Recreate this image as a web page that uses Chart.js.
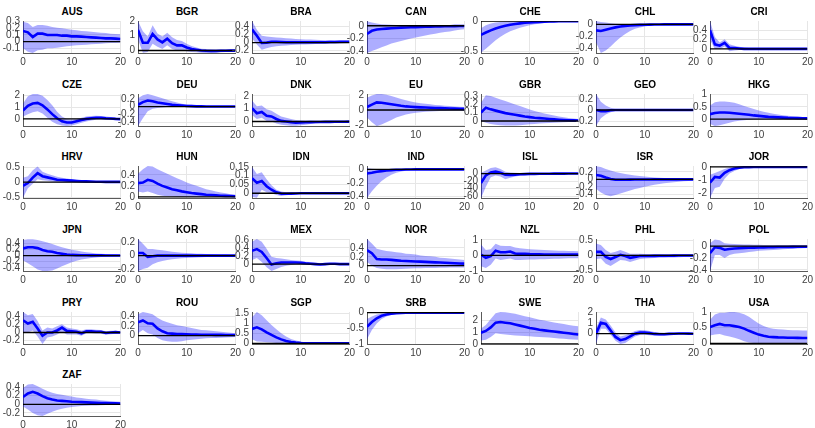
<!DOCTYPE html>
<html>
<head>
<meta charset="utf-8">
<script src="https://cdn.jsdelivr.net/npm/chart.js@4.4.1/dist/chart.umd.min.js"></script>
<style>
  html, body { margin: 0; padding: 0; background: #fff; }
  #wrap { position: relative; width: 815px; height: 428px; overflow: hidden; background: #fff; }
  canvas { position: absolute; }
  .ttl { position: absolute; width: 98px; text-align: center; font: bold 10px "Liberation Sans", Arial, Helvetica, sans-serif; line-height: 12px; color: #000; }
</style>
</head>
<body>
<div id="wrap"></div>
<script>
const horizons = [0,1,2,3,4,5,6,7,8,9,10,11,12,13,14,15,16,17,18,19,20];

const countries = ["AUS","BGR","BRA","CAN","CHE","CHL","CRI",
                   "CZE","DEU","DNK","EU","GBR","GEO","HKG",
                   "HRV","HUN","IDN","IND","ISL","ISR","JOR",
                   "JPN","KOR","MEX","NOR","NZL","PHL","POL",
                   "PRY","ROU","SGP","SRB","SWE","THA","USA",
                   "ZAF"];

const yMin = [-0.17,-0.17,-0.26,-0.43,-0.53,-0.48,-0.09,
              -0.6,-0.5,-0.35,-2.1,-0.06,-0.29,-0.28,
              -0.53,-0.02,-0.027,-0.42,-65,-0.5,-2.35,
              -0.5,-0.23,-0.17,-0.12,-1.0,-0.52,-0.42,
              -0.28,-0.18,-0.03,-1.0,0,-0.95,-0.02,
              -0.27];
const yMax = [0.31,2.0,0.54,0.075,0.0,0.057,0.61,
              2.1,0.33,2.15,2.1,0.325,0.29,1.02,
              0.54,0.56,0.155,0.05,20,0.36,0.07,
              0.535,0.25,0.62,0.6,1.05,0.55,0.12,
              0.5,0.5,1.56,0.02,2.7,2.0,1.0,
              0.47];
const yTicks = [[-0.1,0,0.1,0.2,0.3],[0,1,2],[-0.2,0,0.2,0.4],[-0.4,-0.2,0],[-0.5,0],[-0.4,-0.2,0],[0,0.2,0.4],
                [0,1,2],[-0.4,-0.2,0,0.2],[0,1,2],[-2,0,2],[0,0.1,0.2,0.3],[-0.2,0,0.2],[0,0.5,1],
                [-0.5,0,0.5],[0,0.2,0.4],[0,0.05,0.1,0.15],[-0.4,-0.2,0],[-60,-40,-20,0],[-0.4,-0.2,0,0.2],[-2,-1,0],
                [-0.4,-0.2,0,0.2,0.4],[-0.2,0,0.2],[0,0.2,0.4,0.6],[0,0.2,0.4],[-1,0,1],[-0.5,0,0.5],[-0.4,-0.2,0],
                [-0.2,0,0.2,0.4],[0,0.2,0.4],[0,0.5,1,1.5],[-1,-0.5,0],[0,1,2],[0,1,2],[0,0.5,1],
                [-0.2,0,0.2,0.4]];

// impulse response (median)
const irfMid = [
 [0.16,0.14,0.07,0.12,0.12,0.10,0.10,0.10,0.09,0.09,0.08,0.08,0.075,0.07,0.065,0.06,0.055,0.05,0.05,0.045,0.04],
 [1.40,0.52,0.52,1.12,0.75,0.55,0.80,0.50,0.35,0.35,0.20,0.10,0.05,0.0,-0.02,-0.03,-0.03,-0.02,-0.02,-0.01,-0.01],
 [0.33,0.17,-0.01,0.0,0.02,0.02,0.015,0.01,0.01,0.01,0.01,0.01,0.01,0.01,0.01,0.01,0.015,0.015,0.02,0.02,0.02],
 [-0.13,-0.08,-0.06,-0.05,-0.045,-0.04,-0.035,-0.03,-0.027,-0.024,-0.021,-0.018,-0.016,-0.014,-0.012,-0.01,-0.008,-0.007,-0.006,-0.005,-0.004],
 [-0.23,-0.19,-0.155,-0.125,-0.10,-0.08,-0.063,-0.05,-0.04,-0.03,-0.024,-0.018,-0.014,-0.011,-0.008,-0.006,-0.005,-0.004,-0.003,-0.002,-0.002],
 [-0.10,-0.11,-0.09,-0.07,-0.05,-0.035,-0.025,-0.017,-0.012,-0.008,-0.005,-0.003,-0.002,-0.001,0,0,0,0,0,0,0],
 [0.41,0.10,0.07,0.13,0.02,0.02,0.01,0.0,0.0,0.0,0.0,0,0,0,0,0,0,0,0,0,0],
 [0.70,1.10,1.30,1.35,1.15,0.80,0.40,0.05,-0.20,-0.30,-0.30,-0.20,-0.10,0.0,0.06,0.10,0.10,0.06,0.03,0.0,-0.02],
 [0.05,0.12,0.16,0.14,0.11,0.09,0.07,0.05,0.04,0.03,0.02,0.015,0.01,0.008,0.006,0.005,0.005,0.005,0.005,0.005,0.005],
 [1.05,0.65,0.75,0.45,0.40,0.20,0.05,0.0,-0.05,-0.10,-0.08,-0.06,-0.05,-0.04,-0.035,-0.03,-0.025,-0.02,-0.02,-0.015,-0.01],
 [0.40,0.70,1.00,0.95,0.85,0.75,0.65,0.55,0.47,0.42,0.38,0.35,0.32,0.29,0.26,0.24,0.22,0.20,0.18,0.16,0.15],
 [0.10,0.16,0.14,0.125,0.11,0.095,0.085,0.075,0.065,0.055,0.047,0.04,0.035,0.03,0.025,0.02,0.016,0.013,0.01,0.008,0.006],
 [0.0,-0.02,-0.02,-0.005,0,0,0,0,0,0,0,0,0,0,0,0,0,0,0,0,0],
 [0.20,0.25,0.27,0.27,0.26,0.24,0.22,0.20,0.18,0.15,0.13,0.11,0.09,0.08,0.07,0.06,0.05,0.045,0.04,0.035,0.03],
 [-0.12,-0.03,0.15,0.30,0.20,0.16,0.12,0.08,0.07,0.06,0.05,0.04,0.03,0.025,0.02,0.015,0.012,0.01,0.01,0.01,0.01],
 [0.25,0.26,0.31,0.29,0.24,0.20,0.17,0.14,0.12,0.10,0.085,0.07,0.06,0.05,0.04,0.033,0.027,0.022,0.018,0.015,0.012],
 [0.085,0.06,0.07,0.04,0.02,0.005,-0.002,-0.003,-0.002,-0.001,0,0,0,0,0,0,0,0,0,0,0],
 [-0.06,-0.05,-0.035,-0.025,-0.016,-0.01,-0.006,-0.004,-0.002,-0.001,0,0,0,0,0,0,0,0,0,0,0],
 [-25,-5,3,5,2,-3,-4,-3,-2,-1.5,-1,-0.8,-0.6,-0.5,-0.4,-0.3,-0.2,-0.2,-0.1,-0.1,-0.1],
 [0.12,0.10,0.05,0.01,-0.01,-0.01,-0.008,-0.006,-0.004,-0.003,-0.002,-0.001,0,0,0,0,0,0,0,0,0],
 [-1.2,-0.75,-0.8,-0.45,-0.25,-0.12,-0.06,-0.03,-0.02,-0.01,0,0,0,0,0,0,0,0,0,0,0],
 [0.23,0.27,0.27,0.24,0.18,0.14,0.12,0.08,0.06,0.03,0.02,0.015,0.01,0.008,0.006,0.005,0.004,0.003,0.002,0.002,0.002],
 [0.04,0.04,-0.02,-0.01,0,0,0,0,0,0,0,0,0,0,0,0,0,0,0,0,0],
 [0.33,0.37,0.30,0.15,-0.01,0.02,0.04,0.04,0.04,0.04,0.035,0.02,0.01,0.0,-0.01,0.0,0.01,0.01,0.0,0.0,0.0],
 [0.35,0.28,0.15,0.14,0.14,0.13,0.12,0.11,0.105,0.10,0.095,0.09,0.085,0.08,0.075,0.07,0.065,0.06,0.055,0.05,0.045],
 [0.05,-0.15,-0.05,0.30,0.20,0.20,0.25,0.12,0.10,0.10,0.08,0.07,0.07,0.06,0.06,0.06,0.05,0.05,0.05,0.05,0.05],
 [0.12,0.12,-0.05,-0.12,-0.05,0.02,-0.02,-0.08,-0.05,-0.02,-0.02,-0.02,-0.015,-0.01,-0.01,-0.01,-0.005,0,0,0,0],
 [-0.12,-0.02,-0.03,-0.06,-0.05,-0.04,-0.035,-0.03,-0.028,-0.026,-0.024,-0.022,-0.02,-0.018,-0.016,-0.015,-0.014,-0.013,-0.012,-0.011,-0.01],
 [0.30,0.22,0.26,0.10,-0.08,0.0,0.0,0.05,0.12,0.04,0.03,0.02,-0.02,0.03,0.03,0.02,0.02,-0.01,0.0,0.01,0.0],
 [0.28,0.32,0.26,0.25,0.15,0.09,0.05,0.04,0.03,0.03,0.025,0.022,0.02,0.018,0.016,0.015,0.014,0.013,0.012,0.011,0.01],
 [0.72,0.80,0.70,0.55,0.42,0.30,0.20,0.12,0.07,0.04,0.02,0.01,0.005,0,0,0,0,0,0,0,0],
 [-0.45,-0.30,-0.18,-0.10,-0.06,-0.035,-0.02,-0.01,-0.005,-0.002,0,0,0,0,0,0,0,0,0,0,0],
 [0.95,1.10,1.40,1.80,1.85,1.80,1.75,1.65,1.55,1.45,1.35,1.28,1.20,1.15,1.10,1.05,1.00,0.95,0.90,0.85,0.80],
 [0.0,1.0,0.9,0.3,-0.3,-0.6,-0.5,-0.25,0.0,0.1,0.1,0.05,-0.02,-0.05,-0.05,-0.02,0.0,0.02,0.02,0.01,0.0],
 [0.52,0.58,0.62,0.58,0.58,0.55,0.52,0.47,0.40,0.34,0.28,0.24,0.21,0.20,0.19,0.185,0.18,0.178,0.175,0.172,0.17],
 [0.17,0.25,0.29,0.25,0.19,0.14,0.11,0.09,0.08,0.07,0.06,0.055,0.05,0.045,0.04,0.035,0.03,0.028,0.025,0.022,0.02]
];

// lower edge of the confidence band
const bandLo = [
 [-0.10,-0.15,-0.17,-0.13,-0.12,-0.10,-0.10,-0.09,-0.08,-0.07,-0.06,-0.055,-0.05,-0.045,-0.04,-0.035,-0.03,-0.025,-0.02,-0.02,-0.015],
 [0.75,-0.15,-0.10,0.45,0.25,0.10,0.35,0.10,0.0,0.0,-0.05,-0.10,-0.12,-0.15,-0.17,-0.17,-0.15,-0.12,-0.10,-0.09,-0.08],
 [0.10,-0.05,-0.18,-0.14,-0.11,-0.09,-0.08,-0.07,-0.06,-0.055,-0.05,-0.045,-0.04,-0.035,-0.03,-0.03,-0.025,-0.02,-0.02,-0.015,-0.01],
 [-0.43,-0.40,-0.37,-0.34,-0.31,-0.28,-0.26,-0.24,-0.22,-0.20,-0.185,-0.17,-0.155,-0.14,-0.125,-0.11,-0.10,-0.09,-0.075,-0.065,-0.055],
 [-0.52,-0.46,-0.39,-0.32,-0.26,-0.21,-0.17,-0.14,-0.11,-0.09,-0.07,-0.055,-0.045,-0.035,-0.028,-0.022,-0.017,-0.013,-0.01,-0.008,-0.006],
 [-0.30,-0.48,-0.44,-0.37,-0.29,-0.22,-0.16,-0.11,-0.075,-0.05,-0.035,-0.024,-0.016,-0.01,-0.007,-0.005,-0.003,-0.002,-0.001,-0.001,0],
 [0.20,0.0,0.0,0.05,-0.05,-0.035,-0.025,-0.02,-0.015,-0.01,-0.008,-0.006,-0.005,-0.004,-0.003,-0.002,-0.002,-0.002,-0.001,-0.001,-0.001],
 [0.20,0.40,0.55,0.65,0.45,0.10,-0.25,-0.45,-0.55,-0.60,-0.55,-0.45,-0.32,-0.22,-0.14,-0.08,-0.06,-0.08,-0.10,-0.10,-0.10],
 [-0.50,-0.30,-0.12,-0.05,-0.03,-0.02,-0.01,-0.005,0,0,0,0,0,-0.005,-0.005,-0.005,-0.005,-0.005,-0.005,-0.005,-0.005],
 [0.50,0.20,0.30,0.05,0.0,-0.15,-0.25,-0.30,-0.33,-0.33,-0.30,-0.25,-0.20,-0.15,-0.12,-0.10,-0.08,-0.07,-0.06,-0.05,-0.05],
 [-1.00,-1.60,-2.10,-1.90,-1.60,-1.30,-1.00,-0.78,-0.60,-0.46,-0.36,-0.29,-0.23,-0.19,-0.16,-0.14,-0.12,-0.11,-0.10,-0.10,-0.10],
 [0.0,-0.02,-0.035,-0.045,-0.05,-0.055,-0.055,-0.055,-0.05,-0.045,-0.04,-0.035,-0.03,-0.027,-0.024,-0.02,-0.017,-0.015,-0.012,-0.01,-0.01],
 [-0.29,-0.15,-0.08,-0.04,-0.02,-0.01,-0.005,-0.002,0,0,0,0,0,0,0,0,0,0,0,0,0],
 [-0.20,-0.28,-0.25,-0.20,-0.15,-0.10,-0.07,-0.05,-0.03,-0.02,-0.01,-0.005,0,0,0,0,0,0,0,0,0],
 [-0.52,-0.20,-0.05,0.10,0.06,0.05,0.02,0.0,0.0,0.0,0.0,0,0,0,0,0,0,0,0,0,0],
 [0.10,0.08,0.10,0.07,0.04,0.02,0.01,0.005,0,0,0,0,0,0,0,0,0,0,0,0,0],
 [-0.02,-0.025,0.02,0.005,0.0,-0.01,-0.015,-0.012,-0.008,-0.005,-0.003,-0.002,-0.001,-0.001,-0.001,-0.001,-0.001,-0.001,-0.001,-0.001,-0.001],
 [-0.42,-0.32,-0.24,-0.17,-0.12,-0.08,-0.05,-0.03,-0.02,-0.012,-0.007,-0.004,-0.002,-0.001,0,0,0,0,0,0,0],
 [-65,-35,-10,-5,-8,-15,-11,-8,-6,-4.5,-3.5,-2.8,-2.2,-1.8,-1.5,-1.2,-1,-0.8,-0.7,-0.6,-0.5],
 [-0.25,-0.35,-0.42,-0.45,-0.42,-0.38,-0.34,-0.30,-0.26,-0.23,-0.20,-0.17,-0.145,-0.125,-0.105,-0.09,-0.075,-0.06,-0.05,-0.04,-0.03],
 [-2.35,-1.6,-1.5,-0.9,-0.5,-0.3,-0.15,-0.08,-0.05,-0.03,-0.02,-0.01,0,0,0,0,0,0,0,0,0],
 [-0.15,-0.25,-0.35,-0.45,-0.50,-0.50,-0.48,-0.42,-0.35,-0.28,-0.22,-0.17,-0.13,-0.10,-0.08,-0.06,-0.05,-0.04,-0.03,-0.02,-0.02],
 [-0.23,-0.20,-0.18,-0.13,-0.10,-0.08,-0.065,-0.055,-0.045,-0.04,-0.035,-0.03,-0.027,-0.024,-0.021,-0.018,-0.015,-0.013,-0.011,-0.01,-0.01],
 [0.10,0.15,0.05,-0.08,-0.17,-0.12,-0.07,-0.04,-0.02,0.0,0.0,-0.01,-0.02,-0.03,-0.035,-0.025,-0.01,-0.01,-0.01,-0.01,-0.01],
 [0.08,0.0,-0.05,-0.07,-0.08,-0.08,-0.08,-0.075,-0.07,-0.065,-0.06,-0.058,-0.055,-0.053,-0.05,-0.048,-0.046,-0.044,-0.042,-0.041,-0.04],
 [-0.70,-0.80,-0.60,-0.20,-0.30,-0.25,-0.20,-0.30,-0.30,-0.28,-0.27,-0.26,-0.25,-0.24,-0.23,-0.22,-0.21,-0.20,-0.19,-0.19,-0.18],
 [-0.12,-0.10,-0.28,-0.35,-0.25,-0.15,-0.17,-0.22,-0.17,-0.12,-0.10,-0.09,-0.085,-0.08,-0.075,-0.07,-0.065,-0.06,-0.055,-0.05,-0.05],
 [-0.42,-0.15,-0.15,-0.20,-0.15,-0.13,-0.12,-0.11,-0.10,-0.09,-0.08,-0.075,-0.07,-0.065,-0.06,-0.055,-0.05,-0.045,-0.04,-0.035,-0.03],
 [0.02,0.0,0.05,-0.10,-0.28,-0.12,-0.10,-0.05,0.02,-0.05,-0.05,-0.05,-0.08,-0.02,-0.02,-0.03,-0.03,-0.05,-0.04,-0.03,-0.03],
 [0.05,0.12,0.05,0.02,-0.05,-0.10,-0.12,-0.13,-0.13,-0.12,-0.10,-0.09,-0.08,-0.07,-0.06,-0.055,-0.05,-0.045,-0.04,-0.035,-0.03],
 [0.20,0.10,0.08,0.06,0.04,0.02,0.01,0.0,0,0,0,0,0,0,0,0,0,0,0,0,0],
 [-0.85,-0.55,-0.35,-0.20,-0.12,-0.07,-0.04,-0.025,-0.015,-0.01,-0.005,0,0,0,0,0,0,0,0,0,0],
 [0.30,0.35,0.60,0.90,0.85,0.80,0.75,0.72,0.70,0.68,0.65,0.62,0.60,0.57,0.54,0.50,0.47,0.44,0.41,0.38,0.35],
 [-0.95,0.45,0.45,-0.10,-0.65,-0.95,-0.85,-0.55,-0.25,-0.12,-0.10,-0.15,-0.20,-0.20,-0.18,-0.13,-0.10,-0.08,-0.07,-0.06,-0.06],
 [0.25,0.28,0.30,0.25,0.22,0.18,0.13,0.07,0.03,0.01,0.0,-0.01,-0.01,-0.01,-0.01,-0.01,-0.01,-0.01,-0.01,-0.01,-0.01],
 [-0.05,-0.12,-0.20,-0.25,-0.27,-0.22,-0.17,-0.13,-0.10,-0.08,-0.06,-0.05,-0.04,-0.035,-0.03,-0.025,-0.02,-0.018,-0.015,-0.012,-0.01]
];

// upper edge of the confidence band
const bandHi = [
 [0.30,0.28,0.22,0.25,0.25,0.24,0.22,0.21,0.20,0.19,0.18,0.17,0.16,0.155,0.15,0.14,0.135,0.13,0.12,0.115,0.11],
 [2.0,1.30,0.95,1.72,1.15,0.95,1.20,0.90,0.72,0.65,0.45,0.30,0.20,0.12,0.10,0.08,0.07,0.06,0.05,0.05,0.05],
 [0.54,0.32,0.17,0.15,0.14,0.13,0.12,0.11,0.10,0.09,0.085,0.08,0.075,0.07,0.065,0.06,0.06,0.055,0.055,0.05,0.05],
 [0.07,0.05,0.035,0.025,0.02,0.015,0.01,0.008,0.006,0.005,0.004,0.003,0.002,0.002,0.001,0.001,0.001,0,0,0,0],
 [-0.12,-0.07,-0.04,-0.025,-0.015,-0.01,-0.006,-0.004,-0.002,-0.001,0,0,0,0,0,0,0,0,0,0,0],
 [0.055,0.04,0.03,0.02,0.012,0.008,0.005,0.003,0.002,0.001,0,0,0,0,0,0,0,0,0,0,0],
 [0.61,0.26,0.14,0.21,0.10,0.07,0.045,0.03,0.02,0.015,0.01,0.01,0.008,0.006,0.005,0.004,0.003,0.003,0.002,0.002,0.002],
 [1.30,1.90,2.10,2.10,1.95,1.60,1.15,0.60,0.20,0.0,-0.05,0.0,0.10,0.20,0.25,0.26,0.25,0.20,0.15,0.10,0.05],
 [0.22,0.30,0.33,0.30,0.26,0.22,0.18,0.14,0.11,0.08,0.06,0.05,0.04,0.03,0.025,0.02,0.02,0.02,0.02,0.02,0.02],
 [1.65,1.20,1.25,0.95,0.85,0.60,0.40,0.30,0.20,0.12,0.10,0.08,0.06,0.05,0.04,0.03,0.03,0.025,0.02,0.02,0.02],
 [1.60,1.90,2.10,2.10,2.00,1.85,1.65,1.45,1.27,1.12,1.00,0.90,0.82,0.74,0.67,0.61,0.56,0.51,0.47,0.43,0.40],
 [0.22,0.31,0.30,0.28,0.26,0.24,0.22,0.20,0.18,0.16,0.14,0.12,0.105,0.09,0.077,0.065,0.055,0.045,0.037,0.03,0.025],
 [0.29,0.15,0.08,0.04,0.02,0.01,0.005,0.002,0,0,0,0,0,0,0,0,0,0,0,0,0],
 [0.55,0.68,0.72,0.72,0.70,0.66,0.60,0.53,0.47,0.41,0.35,0.30,0.26,0.22,0.19,0.16,0.14,0.12,0.10,0.09,0.08],
 [0.15,0.20,0.40,0.52,0.35,0.28,0.23,0.18,0.15,0.12,0.10,0.08,0.06,0.05,0.04,0.035,0.03,0.025,0.02,0.02,0.02],
 [0.42,0.50,0.56,0.55,0.50,0.46,0.42,0.38,0.34,0.30,0.26,0.23,0.20,0.17,0.14,0.12,0.10,0.08,0.065,0.05,0.04],
 [0.15,0.11,0.12,0.08,0.045,0.02,0.01,0.005,0.002,0.001,0.001,0.001,0.001,0.001,0.001,0.001,0.001,0.001,0.001,0.001,0.001],
 [0.02,0.01,0.005,0.002,0.001,0,0,0,0,0,0,0,0,0,0,0,0,0,0,0,0],
 [2,8,15,17,12,5,3,2,1.5,1.2,1,0.8,0.7,0.6,0.5,0.5,0.4,0.4,0.3,0.3,0.3],
 [0.35,0.33,0.28,0.24,0.20,0.17,0.145,0.125,0.105,0.09,0.075,0.063,0.053,0.045,0.038,0.032,0.027,0.022,0.018,0.015,0.012],
 [-0.6,-0.45,-0.3,-0.15,-0.05,-0.02,0,0,0,0,0,0,0,0,0,0,0,0,0,0,0],
 [0.50,0.53,0.53,0.50,0.46,0.42,0.37,0.32,0.27,0.23,0.19,0.16,0.13,0.11,0.09,0.07,0.06,0.05,0.04,0.03,0.02],
 [0.25,0.18,0.10,0.10,0.09,0.08,0.07,0.06,0.05,0.045,0.04,0.035,0.03,0.027,0.024,0.021,0.018,0.015,0.013,0.011,0.01],
 [0.55,0.62,0.55,0.38,0.18,0.15,0.14,0.12,0.10,0.09,0.08,0.06,0.05,0.035,0.025,0.02,0.025,0.025,0.02,0.015,0.01],
 [0.60,0.50,0.38,0.35,0.33,0.32,0.30,0.29,0.27,0.26,0.25,0.23,0.22,0.21,0.20,0.18,0.17,0.16,0.15,0.14,0.13],
 [0.70,0.35,0.40,0.75,0.62,0.60,0.60,0.50,0.45,0.42,0.40,0.38,0.36,0.35,0.33,0.32,0.30,0.30,0.28,0.28,0.27],
 [0.40,0.35,0.18,0.08,0.12,0.18,0.12,0.06,0.06,0.06,0.05,0.05,0.045,0.045,0.04,0.04,0.035,0.035,0.03,0.03,0.03],
 [0.05,0.11,0.10,0.05,0.04,0.035,0.03,0.028,0.026,0.024,0.022,0.02,0.018,0.017,0.016,0.015,0.014,0.013,0.012,0.011,0.01],
 [0.50,0.42,0.45,0.28,0.05,0.12,0.10,0.15,0.20,0.12,0.10,0.08,0.05,0.08,0.08,0.07,0.06,0.03,0.04,0.04,0.03],
 [0.45,0.50,0.48,0.45,0.38,0.32,0.28,0.25,0.22,0.20,0.18,0.16,0.14,0.12,0.11,0.10,0.09,0.08,0.07,0.06,0.05],
 [1.30,1.56,1.40,1.15,0.92,0.70,0.50,0.34,0.22,0.14,0.09,0.05,0.03,0.02,0.01,0.005,0.005,0.005,0.005,0.005,0.005],
 [-0.20,-0.12,-0.06,-0.03,-0.015,-0.007,-0.003,0,0,0,0,0,0,0,0,0,0,0,0,0,0],
 [1.30,1.60,2.10,2.60,2.70,2.68,2.62,2.55,2.45,2.35,2.25,2.15,2.05,1.98,1.90,1.82,1.75,1.68,1.60,1.55,1.50],
 [0.50,1.50,1.30,0.75,0.10,-0.25,-0.15,0.05,0.25,0.35,0.32,0.25,0.15,0.10,0.08,0.10,0.10,0.12,0.10,0.08,0.06],
 [0.75,0.92,0.98,0.98,1.00,1.00,0.98,0.93,0.85,0.74,0.63,0.55,0.50,0.47,0.45,0.44,0.43,0.42,0.42,0.41,0.41],
 [0.38,0.46,0.47,0.42,0.36,0.31,0.27,0.24,0.22,0.20,0.18,0.16,0.145,0.13,0.12,0.11,0.095,0.085,0.075,0.065,0.06]
];

const NCOL = 7;
const PLOT_W = 98, PLOT_H = 34;
const COL_X0 = 23, COL_STEP = 114.5;
const ROW_Y0 = 19, ROW_STEP = 72.65;
const AXW = 24, PADT = 7, PADR = 8, XAXH = 14;
const FONT = '"Liberation Sans", Arial, Helvetica, sans-serif';
const wrap = document.getElementById('wrap');

function fmt(v) { return String(Number(v.toFixed(4))); }
function pts(arr) { return horizons.map((h, i) => ({ x: h, y: arr[i] })); }

countries.forEach((name, k) => {
  const col = k % NCOL, row = Math.floor(k / NCOL);
  const px = Math.round(COL_X0 + col * COL_STEP);
  const py = Math.round(ROW_Y0 + row * ROW_STEP);

  const t = document.createElement('div');
  t.className = 'ttl';
  t.style.left = px + 'px';
  t.style.top = (py - 13) + 'px';
  t.textContent = name;
  wrap.appendChild(t);

  const cv = document.createElement('canvas');
  const W = AXW + PLOT_W + PADR, H = PADT + PLOT_H + XAXH;
  cv.width = W; cv.height = H;
  cv.style.width = W + 'px'; cv.style.height = H + 'px';
  cv.style.left = (px - AXW) + 'px';
  cv.style.top = (py - PADT) + 'px';
  wrap.appendChild(cv);

  const ticks = yTicks[k];
  new Chart(cv.getContext('2d'), {
    type: 'line',
    data: {
      datasets: [
        { data: [{x: 0, y: 0}, {x: 20, y: 0}], borderColor: '#000', borderWidth: 1.3, pointRadius: 0, fill: false, order: 0 },
        { data: pts(irfMid[k]), borderColor: '#0000ff', borderWidth: 2.6, pointRadius: 0, fill: false, tension: 0, order: 1 },
        { data: pts(bandLo[k]), borderWidth: 0, borderColor: 'rgba(0,0,0,0)', pointRadius: 0, fill: false, order: 2 },
        { data: pts(bandHi[k]), borderWidth: 0, borderColor: 'rgba(0,0,0,0)', pointRadius: 0, fill: '-1', backgroundColor: 'rgba(0,0,255,0.32)', order: 3 }
      ]
    },
    options: {
      responsive: false,
      animation: false,
      events: [],
      devicePixelRatio: 1,
      layout: { padding: { top: PADT, right: PADR, bottom: 0, left: 0 } },
      plugins: { legend: { display: false }, tooltip: { enabled: false }, title: { display: false } },
      scales: {
        x: {
          type: 'linear', min: 0, max: 20,
          ticks: { stepSize: 10, maxRotation: 0, padding: 3, color: '#404040', font: { family: FONT, size: 10 } },
          grid: { color: '#e6e6e6', drawTicks: false, lineWidth: 1 },
          border: { display: true, color: '#5a5a5a', width: 1 },
          afterFit: s => { s.height = XAXH; }
        },
        y: {
          type: 'linear', min: yMin[k], max: yMax[k],
          afterBuildTicks: s => { s.ticks = ticks.map(v => ({ value: v })); },
          ticks: { autoSkip: false, padding: 3, color: '#404040', font: { family: FONT, size: 10 }, callback: v => fmt(v) },
          grid: { color: '#e6e6e6', drawTicks: false, lineWidth: 1 },
          border: { display: true, color: '#5a5a5a', width: 1 },
          afterFit: s => { s.width = AXW; }
        }
      }
    }
  });
});
</script>
</body>
</html>
